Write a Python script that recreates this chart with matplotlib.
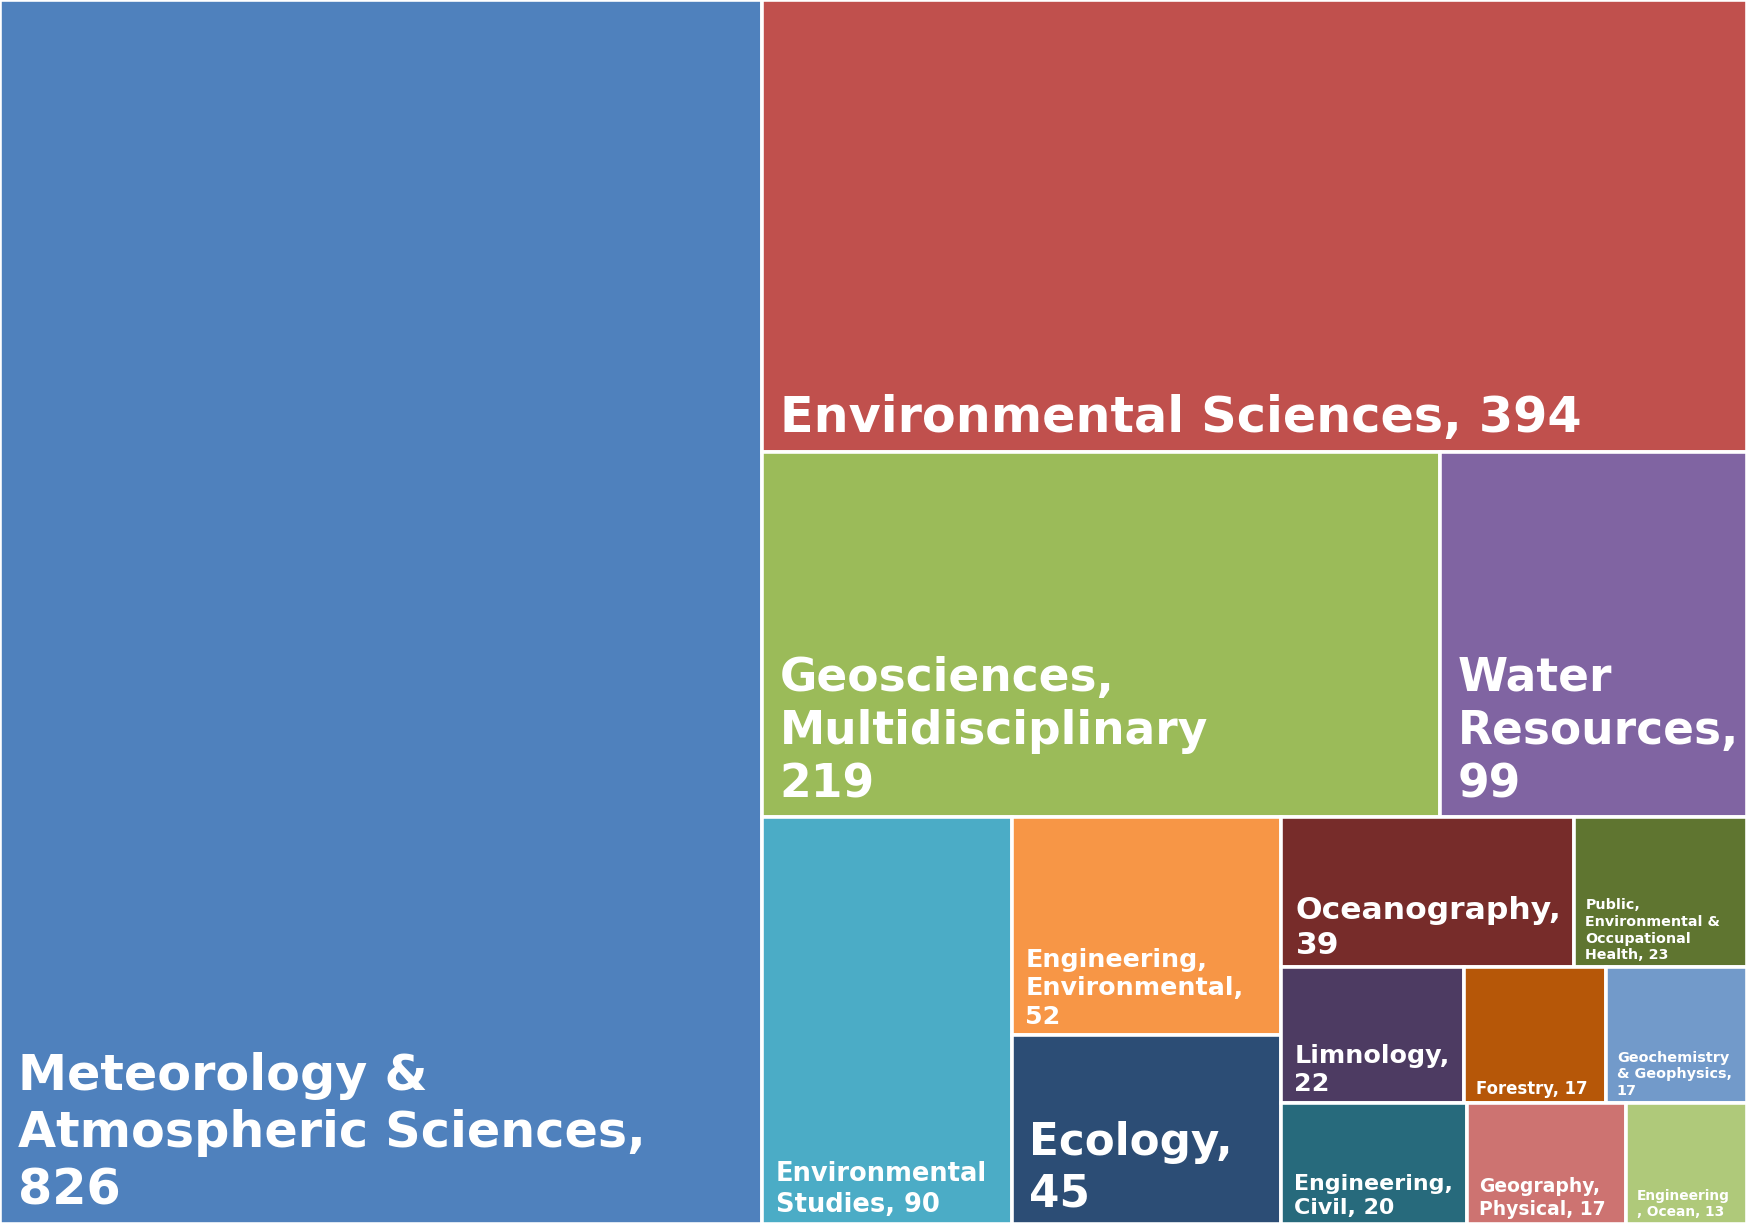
import matplotlib.pyplot as plt
from matplotlib.patches import Rectangle

# category labels (with the line breaks used in the cells) and counts
labels = [
    "Meteorology &\nAtmospheric Sciences,\n826",
    "Environmental Sciences, 394",
    "Geosciences,\nMultidisciplinary\n219",
    "Water\nResources,\n99",
    "Environmental\nStudies, 90",
    "Engineering,\nEnvironmental,\n52",
    "Ecology,\n45",
    "Oceanography,\n39",
    "Public,\nEnvironmental &\nOccupational\nHealth, 23",
    "Limnology,\n22",
    "Forestry, 17",
    "Geochemistry\n& Geophysics,\n17",
    "Engineering,\nCivil, 20",
    "Geography,\nPhysical, 17",
    "Engineering\n, Ocean, 13",
]
values = [826, 394, 219, 99, 90, 52, 45, 39, 23, 22, 17, 17, 20, 17, 13]

colors = ["#4F81BD", "#C0504D", "#9BBB59", "#8064A2", "#4BACC6", "#F79646",
          "#2C4D75", "#772C2A", "#5F7530", "#4D3B62", "#B65708", "#729ACA",
          "#276A7C", "#CD7371", "#AFC97A"]
font_sizes = [35.5, 35.5, 32.8, 32.8, 18.5, 18.3, 31.4, 22.6, 10.3, 18.3,
              11.9, 10.4, 15.9, 13.5, 9.9]

# strips of the treemap: which items share a strip and where the strip sits
strips = [([0], "left"), ([1], "top"), ([2, 3], "top"), ([4], "left"),
          ([5, 6], "left"), ([7, 8], "top"), ([9, 10, 11], "top"),
          ([12, 13, 14], "top")]


def layout(vals, strips, x=0.0, y=0.0, w=1.0, h=1.0):
    rects = {}
    remaining = float(sum(vals))
    for idx, side in strips:
        s = float(sum(vals[i] for i in idx))
        frac = s / remaining
        if side == "left":
            sw = w * frac
            yy = y
            for i in idx:
                ih = h * vals[i] / s
                rects[i] = (x, yy, sw, ih)
                yy += ih
            x += sw
            w -= sw
        else:
            sh = h * frac
            xx = x
            for i in idx:
                iw = w * vals[i] / s
                rects[i] = (xx, y, iw, sh)
                xx += iw
            y += sh
            h -= sh
        remaining -= s
    return rects


rects = layout(values, strips)

fig = plt.figure(figsize=(17.47, 12.24), dpi=100)
ax = fig.add_axes([0, 0, 1, 1])
ax.set_xlim(0, 1)
ax.set_ylim(1, 0)
ax.axis("off")

for i, lab in enumerate(labels):
    rx, ry, rw, rh = rects[i]
    ax.add_patch(Rectangle((rx, ry), rw, rh, facecolor=colors[i],
                           edgecolor="white", linewidth=2.6))
    fs = font_sizes[i]
    ax.annotate(lab, xy=(rx, ry + rh), xytext=(6 + 0.2 * fs, 2 + 0.14 * fs),
                textcoords="offset points", ha="left", va="bottom",
                fontsize=fs, fontweight="bold", color="white",
                family="DejaVu Sans", linespacing=1.24)

fig.savefig("out.png", dpi=100)
